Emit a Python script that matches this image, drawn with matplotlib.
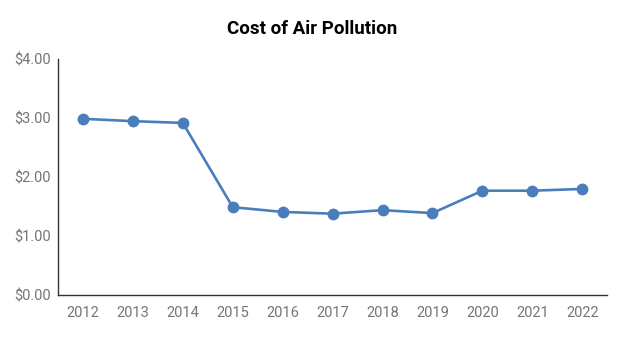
import numpy as np
import matplotlib.pyplot as plt

plt.rcParams['font.family'] = ['Roboto', 'DejaVu Sans']

years = ['2012', '2013', '2014', '2015', '2016', '2017', '2018', '2019', '2020', '2021', '2022']
cost = [2.99, 2.95, 2.92, 1.49, 1.41, 1.38, 1.44, 1.39, 1.77, 1.77, 1.80]
yticks = [0, 1, 2, 3, 4]
ylabels = ['$0.00', '$1.00', '$2.00', '$3.00', '$4.00']

fig = plt.figure(figsize=(6.24, 3.37), dpi=100)
ax = fig.add_axes([0.093, 0.1246, 0.88, 0.6995])

x = np.arange(len(years))
ax.plot(x, cost, color='#4A7EBB', lw=1.9, marker='o', markersize=7.5, zorder=3)

ax.set_xlim(-0.5, len(years) - 0.5)
ax.set_ylim(0, 4)
ax.set_xticks(x)
ax.set_xticklabels(years)
ax.set_yticks(yticks)
ax.set_yticklabels(ylabels)
ax.tick_params(length=0, colors='#757575', labelsize=10.5)
ax.tick_params(axis='x', pad=8)
ax.tick_params(axis='y', pad=5)

for s in ['top', 'right']:
    ax.spines[s].set_visible(False)
for s in ['left', 'bottom']:
    ax.spines[s].set_color('#333333')
    ax.spines[s].set_linewidth(1.0)

fig.text(0.5, 0.913, 'Cost of Air Pollution', ha='center', va='center',
         fontsize=13.5, fontweight='bold', color='black')

fig.savefig('out.png', dpi=100)
